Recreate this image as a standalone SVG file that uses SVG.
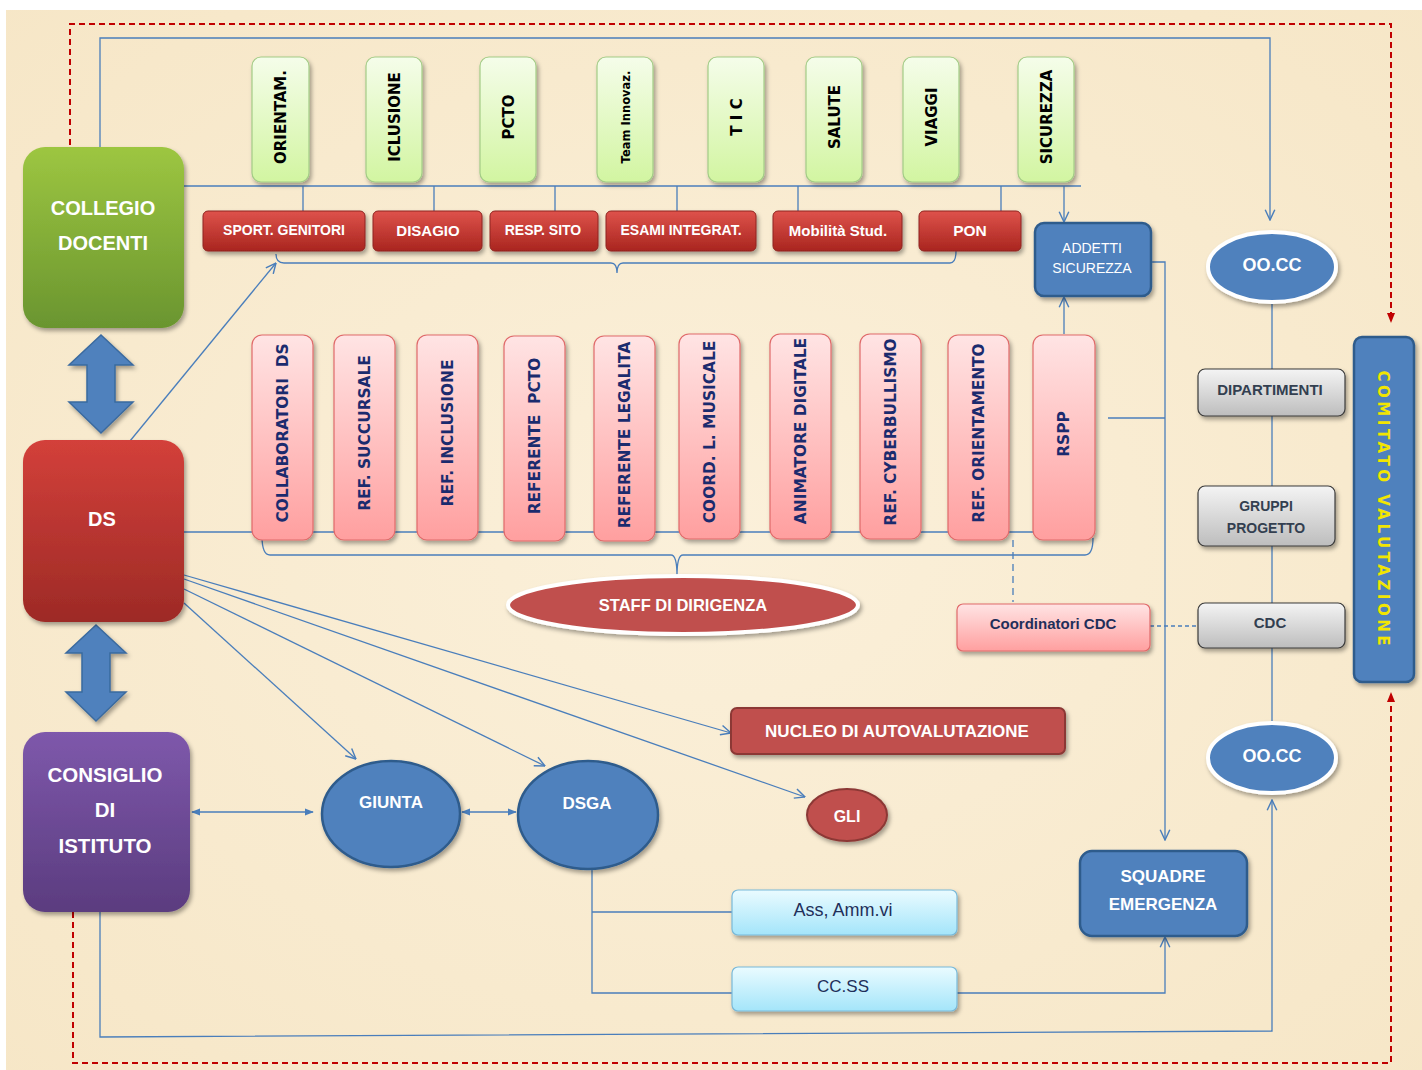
<svg xmlns="http://www.w3.org/2000/svg" width="1422" height="1070" viewBox="0 0 1422 1070">
<defs>
<style>
.con{fill:none;stroke:#4a7ebb;stroke-width:1.3}
.red{fill:none;stroke:#c00000;stroke-width:2;stroke-dasharray:6 4}
.w{font-family:"Liberation Sans",Arial,sans-serif;font-weight:bold;fill:#ffffff;text-anchor:middle;dominant-baseline:central}
.wn{font-family:"Liberation Sans",Arial,sans-serif;fill:#ffffff;text-anchor:middle;dominant-baseline:central}
.g{font-family:"DejaVu Sans",Verdana,sans-serif;font-weight:bold;fill:#000000;text-anchor:middle;dominant-baseline:central;font-size:15px}
.p{font-family:"DejaVu Sans",Verdana,sans-serif;font-weight:bold;fill:#1b2b6e;text-anchor:middle;dominant-baseline:central;font-size:15.4px}
.gr{font-family:"Liberation Sans",Arial,sans-serif;font-weight:bold;fill:#333f50;text-anchor:middle;dominant-baseline:central}
.nv{font-family:"Liberation Sans",Arial,sans-serif;fill:#1f2f5a;text-anchor:middle;dominant-baseline:central}
.gbox{fill:url(#gGreenL);stroke:#a3cc86;stroke-width:1.2}
.pbox{fill:url(#gPink);stroke:#e06a6a;stroke-width:1.2}
.rbox{fill:url(#gRedS);stroke:#8e2420;stroke-width:1}
.grbox{fill:url(#gGray);stroke:#3a3a3a;stroke-width:1.2}
.cbox{fill:url(#gCyan);stroke:#79b9d9;stroke-width:1.2}
.blue{fill:#4f81bd;stroke:#2f5b8c;stroke-width:2.5}
</style>
<linearGradient id="gGreen" x1="0" y1="0" x2="0" y2="1"><stop offset="0" stop-color="#9dc641"/><stop offset="1" stop-color="#6a952f"/></linearGradient>
<linearGradient id="gRed" x1="0" y1="0" x2="0" y2="1"><stop offset="0" stop-color="#d3403a"/><stop offset="1" stop-color="#9d2a26"/></linearGradient>
<linearGradient id="gPurple" x1="0" y1="0" x2="0" y2="1"><stop offset="0" stop-color="#7e58ab"/><stop offset="1" stop-color="#5b3c7f"/></linearGradient>
<linearGradient id="gRedS" x1="0" y1="0" x2="0" y2="1"><stop offset="0" stop-color="#de524b"/><stop offset="1" stop-color="#a9251f"/></linearGradient>
<linearGradient id="gGreenL" x1="0" y1="0" x2="0" y2="1"><stop offset="0" stop-color="#f5fdea"/><stop offset="1" stop-color="#d2f5a1"/></linearGradient>
<linearGradient id="gPink" x1="0" y1="0" x2="0" y2="1"><stop offset="0" stop-color="#ffe4e4"/><stop offset="1" stop-color="#ff9f9f"/></linearGradient>
<linearGradient id="gGray" x1="0" y1="0" x2="0" y2="1"><stop offset="0" stop-color="#f4f4f4"/><stop offset="1" stop-color="#bdbdbd"/></linearGradient>
<linearGradient id="gCyan" x1="0" y1="0" x2="0" y2="1"><stop offset="0" stop-color="#eafbff"/><stop offset="1" stop-color="#a4e5fa"/></linearGradient>
<radialGradient id="gBg" cx="0.5" cy="0.5" r="0.75"><stop offset="0" stop-color="#fbf0da"/><stop offset="1" stop-color="#f6e6c6"/></radialGradient>
<filter id="sh" x="-20%" y="-20%" width="140%" height="140%"><feDropShadow dx="2" dy="3" stdDeviation="2" flood-color="#000" flood-opacity="0.35"/></filter>
<marker id="oa" viewBox="0 0 10 10" refX="9.5" refY="5" markerWidth="12" markerHeight="12" markerUnits="userSpaceOnUse" orient="auto"><path d="M1,1 L9.5,5 L1,9" fill="none" stroke="#4a7ebb" stroke-width="1.2"/></marker>
<marker id="fa" viewBox="0 0 10 10" refX="9" refY="5" markerWidth="9" markerHeight="9" markerUnits="userSpaceOnUse" orient="auto-start-reverse"><path d="M0,1 L10,5 L0,9 z" fill="#4a7ebb"/></marker>
<marker id="ra" viewBox="0 0 10 10" refX="9" refY="5" markerWidth="10" markerHeight="10" markerUnits="userSpaceOnUse" orient="auto"><path d="M0,1 L10,5 L0,9 z" fill="#c00000"/></marker>
</defs>

<rect x="0" y="0" width="1422" height="1070" fill="#ffffff"/>
<rect x="6" y="10" width="1416" height="1060" fill="url(#gBg)"/>

<g id="dashed">
<path class="red" d="M70,145 L70,24 L1391,24 L1391,322" marker-end="url(#ra)"/>
<path class="red" d="M73,912 L73,1063 L1391,1063 L1391,693" marker-end="url(#ra)"/>
</g>

<g id="connectors">
<path class="con" d="M100,147 L100,38 L1270,38 L1270,220" marker-end="url(#oa)"/>
<path class="con" d="M184,186 L1081,186"/>
<path class="con" d="M303,186 V211 M434,186 V211 M555,186 V211 M677,186 V211 M798,186 V211 M1001,186 V211"/>
<path class="con" d="M1064,186 V222" marker-end="url(#oa)"/>
<path class="con" d="M276,254 Q276,263 284,263 L611,263 Q617,263 617,273 Q617,263 623,263 L950,263 Q956,263 956,251"/>
<path class="con" d="M130,441 L276,263" marker-end="url(#oa)"/>
<path class="con" d="M1064,334 V297" marker-end="url(#oa)"/>
<path class="con" d="M1150,262 L1165,262 L1165,840" marker-end="url(#oa)"/>
<path class="con" d="M1108,418 L1165,418"/>
<path class="con" d="M1272,300 V722"/>
<path class="con" d="M184,532 L1034,532"/>
<path class="con" d="M262,536 Q262,555 270,555 L671,555 Q677,555 677,576 Q677,555 683,555 L1085,555 Q1093,555 1093,538"/>
<path class="con" d="M1013,540 V602" stroke-dasharray="7 5"/>
<path class="con" d="M1150,626 H1198" stroke-dasharray="4 3"/>
<path class="con" d="M184,575 L731,733" marker-end="url(#oa)"/>
<path class="con" d="M184,579 L805,797" marker-end="url(#oa)"/>
<path class="con" d="M184,589 L545,766" marker-end="url(#oa)"/>
<path class="con" d="M184,603 L356,759" marker-end="url(#oa)"/>
<path class="con" d="M192,812 L313,812" marker-start="url(#fa)" marker-end="url(#fa)"/>
<path class="con" d="M462,812 L516,812" marker-start="url(#fa)" marker-end="url(#fa)"/>
<path class="con" d="M592,870 V993 H732 M592,912 H732"/>
<path class="con" d="M956,993 H1165 V937" marker-end="url(#oa)"/>
<path class="con" d="M100,912 V1037 L1272,1031 V800" marker-end="url(#oa)"/>
</g>

<g id="bigarrows">
<polygon points="101,335 133,365 115,365 115,402 133,402 101,433 69,402 87,402 87,365 69,365" fill="#4f81bd" stroke="#3a6a9f" stroke-width="1.5" filter="url(#sh)"/>
<polygon points="96,625 126,653 110,653 110,692 126,692 96,721 66,692 82,692 82,653 66,653" fill="#4f81bd" stroke="#3a6a9f" stroke-width="1.5" filter="url(#sh)"/>
</g>

<g id="collegio"><rect x="23" y="147" width="161" height="181" rx="22" fill="url(#gGreen)" filter="url(#sh)"/>
<text class="w" x="103" y="208" font-size="20">COLLEGIO</text><text class="w" x="103" y="243" font-size="20">DOCENTI</text></g>
<g id="ds"><rect x="23" y="440" width="161" height="182" rx="22" fill="url(#gRed)" filter="url(#sh)"/>
<text class="w" x="102" y="519" font-size="20">DS</text></g>
<g id="consiglio"><rect x="23" y="732" width="167" height="180" rx="22" fill="url(#gPurple)" filter="url(#sh)"/>
<text class="w" x="105" y="774" font-size="20.5">CONSIGLIO</text><text class="w" x="105" y="809" font-size="20.5">DI</text><text class="w" x="105" y="845" font-size="20.5">ISTITUTO</text></g>

<g id="green-boxes">
<g id="orientam"><rect class="gbox" x="252" y="57" width="57" height="125" rx="9" filter="url(#sh)"/><text class="g" transform="translate(281,117) rotate(-90)">ORIENTAM.</text></g>
<g id="iclusione"><rect class="gbox" x="366" y="57" width="56" height="125" rx="9" filter="url(#sh)"/><text class="g" transform="translate(395,117) rotate(-90)">ICLUSIONE</text></g>
<g id="pcto"><rect class="gbox" x="480" y="57" width="56" height="125" rx="9" filter="url(#sh)"/><text class="g" transform="translate(509,117) rotate(-90)">PCTO</text></g>
<g id="teaminnovaz"><rect class="gbox" x="597" y="57" width="56" height="125" rx="9" filter="url(#sh)"/><text class="g" style="font-size:11.5px" transform="translate(626,117) rotate(-90)">Team Innovaz.</text></g>
<g id="tic"><rect class="gbox" x="708" y="57" width="56" height="125" rx="9" filter="url(#sh)"/><text class="g" transform="translate(737,117) rotate(-90)">T I C</text></g>
<g id="salute"><rect class="gbox" x="806" y="57" width="56" height="125" rx="9" filter="url(#sh)"/><text class="g" transform="translate(835,117) rotate(-90)">SALUTE</text></g>
<g id="viaggi"><rect class="gbox" x="903" y="57" width="56" height="125" rx="9" filter="url(#sh)"/><text class="g" transform="translate(932,117) rotate(-90)">VIAGGI</text></g>
<g id="sicurezza"><rect class="gbox" x="1018" y="57" width="56" height="125" rx="9" filter="url(#sh)"/><text class="g" transform="translate(1047,117) rotate(-90)">SICUREZZA</text></g>
</g>

<g id="red-boxes">
<g id="sport"><rect class="rbox" x="203" y="211" width="162" height="40" rx="5" filter="url(#sh)"/><text class="w" x="284" y="230" font-size="14">SPORT. GENITORI</text></g>
<g id="disagio"><rect class="rbox" x="373" y="211" width="109" height="40" rx="5" filter="url(#sh)"/><text class="w" x="428" y="230" font-size="15">DISAGIO</text></g>
<g id="respsito"><rect class="rbox" x="490" y="211" width="108" height="40" rx="5" filter="url(#sh)"/><text class="w" x="543" y="230" font-size="14">RESP. SITO</text></g>
<g id="esami"><rect class="rbox" x="606" y="211" width="150" height="40" rx="5" filter="url(#sh)"/><text class="w" x="681" y="230" font-size="14">ESAMI INTEGRAT.</text></g>
<g id="mobilita"><rect class="rbox" x="773" y="211" width="129" height="40" rx="5" filter="url(#sh)"/><text class="w" x="838" y="230" font-size="15">Mobilità Stud.</text></g>
<g id="pon"><rect class="rbox" x="919" y="211" width="102" height="40" rx="5" filter="url(#sh)"/><text class="w" x="970" y="230" font-size="15.5">PON</text></g>
</g>

<g id="addetti"><rect class="blue" x="1035" y="223" width="116" height="73" rx="9" filter="url(#sh)"/>
<text class="wn" x="1092" y="248" font-size="14">ADDETTI</text><text class="wn" x="1092" y="268" font-size="14">SICUREZZA</text></g>

<g id="staff-boxes">
<g id="collaboratori"><rect class="pbox" x="252" y="335" width="61" height="205" rx="10" filter="url(#sh)"/><text class="p" transform="translate(283,433) rotate(-90)" xml:space="preserve">COLLABORATORI  DS</text></g>
<g id="succursale"><rect class="pbox" x="334" y="335" width="61" height="205" rx="10" filter="url(#sh)"/><text class="p" transform="translate(365,433) rotate(-90)">REF. SUCCURSALE</text></g>
<g id="inclusione"><rect class="pbox" x="417" y="335" width="61" height="205" rx="10" filter="url(#sh)"/><text class="p" transform="translate(448,433) rotate(-90)">REF. INCLUSIONE</text></g>
<g id="refpcto"><rect class="pbox" x="504" y="336" width="61" height="205" rx="10" filter="url(#sh)"/><text class="p" transform="translate(535,436) rotate(-90)" xml:space="preserve">REFERENTE  PCTO</text></g>
<g id="legalita"><rect class="pbox" x="594" y="336" width="61" height="205" rx="10" filter="url(#sh)"/><text class="p" transform="translate(625,435) rotate(-90)">REFERENTE LEGALITA</text></g>
<g id="musicale"><rect class="pbox" x="679" y="334" width="61" height="205" rx="10" filter="url(#sh)"/><text class="p" transform="translate(710,432) rotate(-90)">COORD. L. MUSICALE</text></g>
<g id="animatore"><rect class="pbox" x="770" y="334" width="61" height="205" rx="10" filter="url(#sh)"/><text class="p" transform="translate(801,431) rotate(-90)">ANIMATORE DIGITALE</text></g>
<g id="cyber"><rect class="pbox" x="860" y="334" width="61" height="205" rx="10" filter="url(#sh)"/><text class="p" transform="translate(891,432) rotate(-90)">REF. CYBERBULLISMO</text></g>
<g id="orientamento"><rect class="pbox" x="948" y="335" width="61" height="205" rx="10" filter="url(#sh)"/><text class="p" transform="translate(979,433) rotate(-90)">REF. ORIENTAMENTO</text></g>
<g id="rspp"><rect class="pbox" x="1033" y="335" width="62" height="205" rx="10" filter="url(#sh)"/><text class="p" transform="translate(1064,434) rotate(-90)">RSPP</text></g>
</g>

<g id="staff"><ellipse cx="683" cy="605" rx="175" ry="29" fill="#c0504d" stroke="#ffffff" stroke-width="4" filter="url(#sh)"/>
<text class="w" x="683" y="605" font-size="16.5">STAFF DI DIRIGENZA</text></g>

<g id="coordinatori"><rect class="pbox" x="957" y="604" width="193" height="47" rx="6" filter="url(#sh)"/>
<text class="nv" x="1053" y="623" font-size="15" font-weight="bold">Coordinatori CDC</text></g>

<g id="ooccTop"><ellipse cx="1272" cy="267" rx="64" ry="35" fill="#4f81bd" stroke="#ffffff" stroke-width="4" filter="url(#sh)"/>
<text class="w" x="1272" y="265" font-size="18">OO.CC</text></g>
<g id="dipartimenti"><rect class="grbox" x="1198" y="369" width="147" height="47" rx="7" filter="url(#sh)"/><text class="gr" x="1270" y="389" font-size="15">DIPARTIMENTI</text></g>
<g id="gruppi"><rect class="grbox" x="1198" y="486" width="137" height="60" rx="7" filter="url(#sh)"/><text class="gr" x="1266" y="506" font-size="14">GRUPPI</text><text class="gr" x="1266" y="528" font-size="14">PROGETTO</text></g>
<g id="cdc"><rect class="grbox" x="1198" y="603" width="147" height="45" rx="7" filter="url(#sh)"/><text class="gr" x="1270" y="622" font-size="15">CDC</text></g>
<g id="ooccBottom"><ellipse cx="1272" cy="758" rx="64" ry="35" fill="#4f81bd" stroke="#ffffff" stroke-width="4" filter="url(#sh)"/>
<text class="w" x="1272" y="756" font-size="18">OO.CC</text></g>

<g id="comitato"><rect class="blue" x="1354" y="337" width="60" height="345" rx="8" filter="url(#sh)"/>
<text transform="translate(1383,508) rotate(90)" text-anchor="middle" dominant-baseline="central" font-family="DejaVu Sans, Verdana, sans-serif" font-weight="bold" font-size="15" fill="#f2e600" textLength="275" lengthAdjust="spacing">COMITATO VALUTAZIONE</text></g>

<g id="nucleo"><rect x="731" y="708" width="334" height="46" rx="6" fill="#c0504d" stroke="#8c3836" stroke-width="2" filter="url(#sh)"/>
<text class="w" x="897" y="731" font-size="17">NUCLEO DI AUTOVALUTAZIONE</text></g>
<g id="gli"><ellipse cx="847" cy="815" rx="40" ry="26" fill="#c0504d" stroke="#8c3836" stroke-width="2" filter="url(#sh)"/>
<text class="w" x="847" y="816" font-size="16">GLI</text></g>
<g id="giunta"><ellipse cx="391" cy="814" rx="69" ry="53" class="blue" filter="url(#sh)"/>
<text class="w" x="391" y="802" font-size="17">GIUNTA</text></g>
<g id="dsga"><ellipse cx="588" cy="815" rx="70" ry="54" class="blue" filter="url(#sh)"/>
<text class="w" x="587" y="803" font-size="17">DSGA</text></g>
<g id="ass"><rect class="cbox" x="732" y="890" width="225" height="45" rx="6" filter="url(#sh)"/><text class="nv" x="843" y="910" font-size="18">Ass, Amm.vi</text></g>
<g id="ccss"><rect class="cbox" x="732" y="967" width="225" height="44" rx="6" filter="url(#sh)"/><text class="nv" x="843" y="986" font-size="17">CC.SS</text></g>
<g id="squadre"><rect class="blue" x="1080" y="851" width="167" height="85" rx="12" filter="url(#sh)"/>
<text class="w" x="1163" y="876" font-size="17">SQUADRE</text><text class="w" x="1163" y="904" font-size="17">EMERGENZA</text></g>
</svg>
